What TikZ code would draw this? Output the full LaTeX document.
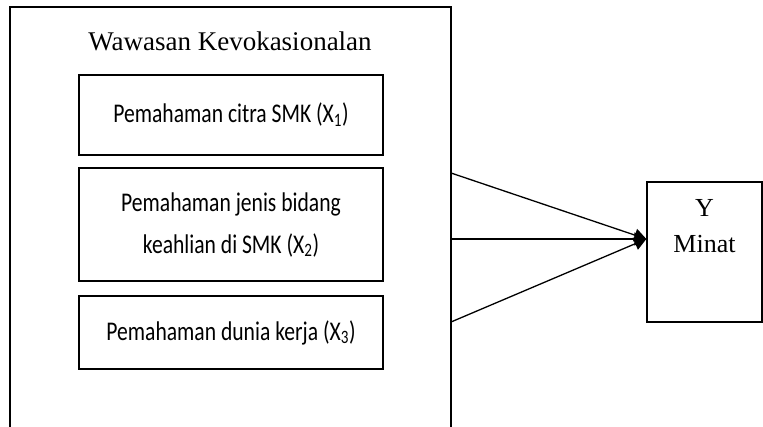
\documentclass[tikz,border=0pt]{standalone}
\usepackage{fontspec}
\setmainfont{Liberation Serif}
\newfontfamily\calibri[FakeStretch=0.8]{Carlito}
\usetikzlibrary{positioning,arrows.meta}

\begin{document}
\begin{tikzpicture}[x=1pt,y=-1pt,
  subbox/.style={draw,line width=1.3pt,minimum width=304pt,inner sep=0pt,
    align=center,font=\calibri\fontsize{27}{42}\selectfont},
  panah/.style={line width=1.3pt,-{Triangle[length=12pt,width=13pt]}}]
  \useasboundingbox (0,0) rectangle (763,427);
  % kerangka wawasan (terbuka di bawah)
  \draw[line width=1.5pt] (10,427) -- (10,7) -- (451,7) -- (451,427);
  \node[font=\fontsize{27}{30}\selectfont] (judul) at (230,41) {Wawasan Kevokasionalan};
  \node[subbox,minimum height=80pt]  (x1) at (231,115)   {Pemahaman citra SMK (X\textsubscript{1})};
  \node[subbox,minimum height=113pt] (x2) at (231,224.5) {Pemahaman jenis bidang\\keahlian di SMK (X\textsubscript{2})};
  \node[subbox,minimum height=73pt]  (x3) at (231,332.5) {Pemahaman dunia kerja (X\textsubscript{3})};
  % variabel Y
  \node[draw,line width=1.3pt,minimum width=115pt,minimum height=140pt] (y) at (704.5,252) {};
  \node[align=center,font=\fontsize{26}{36}\selectfont,anchor=north] (ylabel) at ([yshift=-15pt]y.north) {Y\\Minat};
  \coordinate (a1) at (451,173);
  \coordinate (a2) at (451,239);
  \coordinate (a3) at (451,322);
  \coordinate (tip) at ([yshift=13pt]y.west);
  \foreach \a in {a1,a2,a3}
    \draw[panah] (\a) -- (tip);
\end{tikzpicture}
\end{document}
